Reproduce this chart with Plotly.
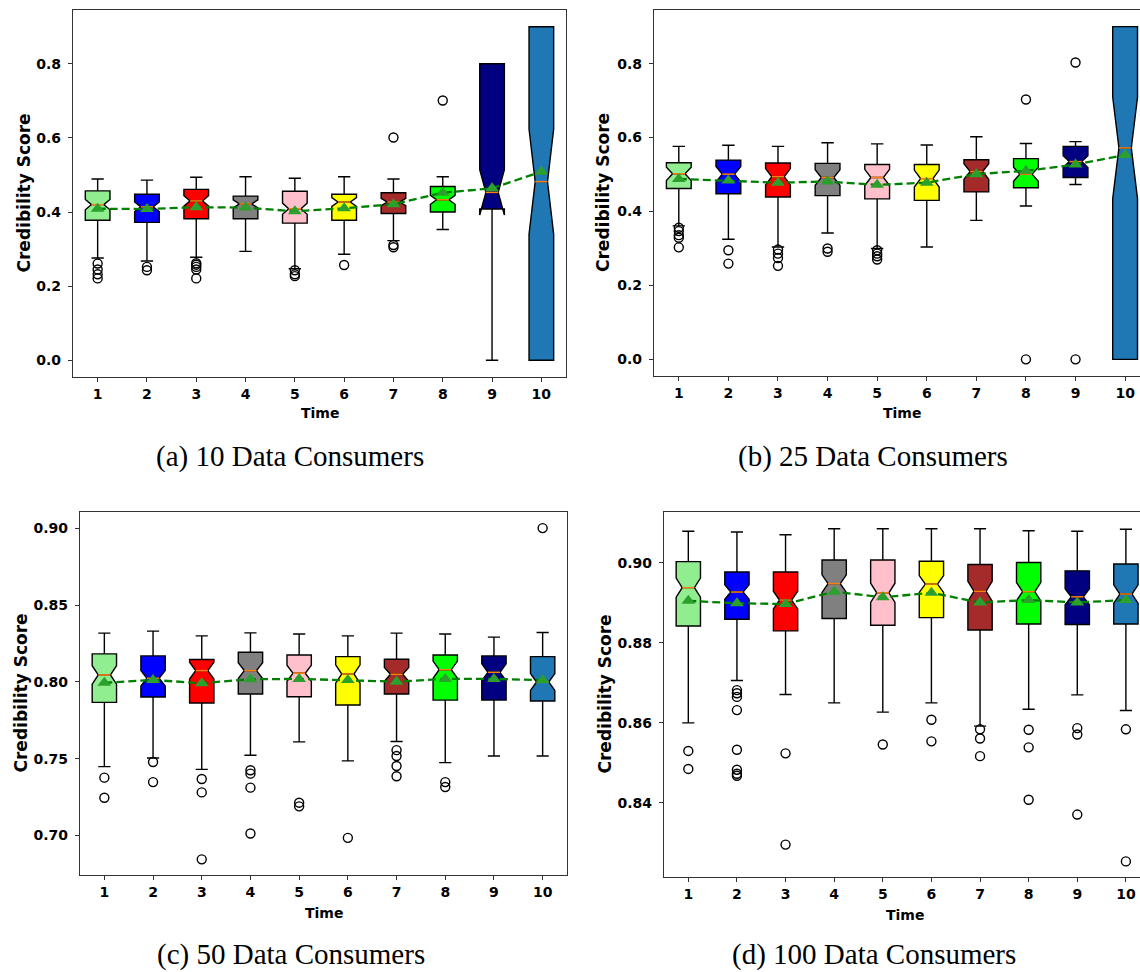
import plotly.graph_objects as go

TIME = list(range(1, 11))
COLORS = ["#90ee90", "#0000ff", "#ff0000", "#808080", "#ffc0cb",
          "#ffff00", "#a52a2a", "#00ff00", "#000080", "#1f77b4"]

# ---------------- (a) 10 Data Consumers ----------------
A_Q1 = [0.378, 0.372, 0.382, 0.382, 0.370, 0.378, 0.396, 0.400, 0.408, 0.000]
A_MED = [0.420, 0.414, 0.430, 0.422, 0.409, 0.427, 0.427, 0.433, 0.453, 0.482]
A_Q3 = [0.457, 0.448, 0.461, 0.443, 0.456, 0.448, 0.452, 0.469, 0.800, 0.900]
A_LO = [0.276, 0.268, 0.278, 0.294, 0.247, 0.286, 0.323, 0.353, 0.000, 0.000]
A_HI = [0.489, 0.486, 0.494, 0.495, 0.491, 0.495, 0.489, 0.495, 0.800, 0.900]
A_MEAN = [0.409, 0.408, 0.413, 0.412, 0.402, 0.410, 0.421, 0.452, 0.464, 0.509]
A_NOTCH = [0.014, 0.013, 0.014, 0.011, 0.015, 0.012, 0.010, 0.012, 0.061, 0.142]
A_OUT = [[0.261, 0.245, 0.232, 0.221], [0.252, 0.243],
         [0.262, 0.258, 0.252, 0.245, 0.221], [], [0.243, 0.232, 0.227],
         [0.257], [0.601, 0.311, 0.305], [0.701], [], []]

# ---------------- (b) 25 Data Consumers ----------------
B_Q1 = [0.462, 0.448, 0.439, 0.443, 0.434, 0.430, 0.453, 0.464, 0.492, 0.000]
B_MED = [0.502, 0.501, 0.494, 0.492, 0.492, 0.489, 0.508, 0.501, 0.535, 0.572]
B_Q3 = [0.532, 0.539, 0.531, 0.530, 0.527, 0.527, 0.540, 0.543, 0.576, 0.900]
B_LO = [0.361, 0.325, 0.304, 0.342, 0.300, 0.304, 0.376, 0.415, 0.473, 0.000]
B_HI = [0.576, 0.579, 0.576, 0.586, 0.583, 0.580, 0.602, 0.584, 0.589, 0.900]
B_MEAN = [0.488, 0.484, 0.478, 0.481, 0.472, 0.478, 0.501, 0.510, 0.527, 0.553]
B_NOTCH = [0.018, 0.021, 0.022, 0.021, 0.022, 0.023, 0.021, 0.019, 0.016, 0.137]
B_OUT = [[0.356, 0.347, 0.336, 0.329, 0.303], [0.295, 0.259],
         [0.297, 0.286, 0.274, 0.253], [0.300, 0.291],
         [0.295, 0.286, 0.279, 0.270], [], [], [0.703, 0.000],
         [0.803, 0.000], []]

# ---------------- (c) 50 Data Consumers ----------------
C_Q1 = [0.7867, 0.7902, 0.7863, 0.7922, 0.7904, 0.7850, 0.7922, 0.7882, 0.7882, 0.7876]
C_MED = [0.8046, 0.8024, 0.8074, 0.8074, 0.8057, 0.8052, 0.8050, 0.8080, 0.8063, 0.8000]
C_Q3 = [0.8183, 0.8170, 0.8146, 0.8194, 0.8176, 0.8165, 0.8148, 0.8176, 0.8170, 0.8165]
C_LO = [0.7449, 0.7505, 0.7431, 0.7523, 0.7610, 0.7486, 0.7612, 0.7475, 0.7518, 0.7518]
C_HI = [0.8318, 0.8331, 0.8300, 0.8320, 0.8312, 0.8300, 0.8318, 0.8312, 0.8292, 0.8322]
C_MEAN = [0.7995, 0.8013, 0.7992, 0.8018, 0.8020, 0.8013, 0.8002, 0.8020, 0.8020, 0.8012]
C_NOTCH = [0.0060, 0.0050, 0.0055, 0.0052, 0.0052, 0.0060, 0.0045, 0.0056, 0.0055, 0.0055]
C_OUT = [[0.7377, 0.7246], [0.7479, 0.7348], [0.7368, 0.7281, 0.6845],
         [0.7425, 0.7403, 0.7312, 0.7013], [0.7214, 0.7190], [0.6985],
         [0.7556, 0.7518, 0.7453, 0.7386], [0.7348, 0.7316], [], [0.9002]]

# ---------------- (d) 100 Data Consumers ----------------
D_Q1 = [0.8842, 0.8859, 0.8830, 0.8861, 0.8844, 0.8863, 0.8832, 0.8847, 0.8846, 0.8847]
D_MED = [0.8938, 0.8927, 0.8907, 0.8948, 0.8925, 0.8947, 0.8929, 0.8928, 0.8915, 0.8922]
D_Q3 = [0.9003, 0.8977, 0.8977, 0.9007, 0.9007, 0.9004, 0.8996, 0.9001, 0.8980, 0.8997]
D_LO = [0.8600, 0.8706, 0.8671, 0.8650, 0.8627, 0.8650, 0.8592, 0.8634, 0.8670, 0.8631]
D_HI = [0.9079, 0.9077, 0.9070, 0.9085, 0.9085, 0.9085, 0.9085, 0.9080, 0.9079, 0.9084]
D_MEAN = [0.8905, 0.8899, 0.8897, 0.8928, 0.8914, 0.8925, 0.8901, 0.8907, 0.8901, 0.8907]
D_NOTCH = [0.0024, 0.0018, 0.0022, 0.0022, 0.0024, 0.0021, 0.0025, 0.0023, 0.0020, 0.0023]
D_OUT = [[0.8530, 0.8485], [0.8682, 0.8674, 0.8665, 0.8632, 0.8533, 0.8483, 0.8473, 0.8468],
         [0.8524, 0.8296], [], [0.8546], [0.8608, 0.8554], [0.8584, 0.8561, 0.8517],
         [0.8583, 0.8539, 0.8408], [0.8587, 0.8571, 0.8371], [0.8584, 0.8254]]

CAPTIONS = ["(a) 10 Data Consumers", "(b) 25 Data Consumers",
            "(c) 50 Data Consumers", "(d) 100 Data Consumers"]
Y_TICKS = [[0.0, 0.2, 0.4, 0.6, 0.8], [0.0, 0.2, 0.4, 0.6, 0.8],
           [0.70, 0.75, 0.80, 0.85, 0.90], [0.84, 0.86, 0.88, 0.90]]
Y_FMT = [".1f", ".1f", ".2f", ".2f"]
Y_RANGE = [[-0.045, 0.945], [-0.045, 0.945], [0.6743, 0.9107], [0.8215, 0.9127]]
X_RANGE = [[0.5, 10.5], [0.5, 10.3], [0.5, 10.5], [0.5, 10.29]]

W, H = 1140, 972
# plot-area boxes in page pixels: left, top, right, bottom
AREAS = [(73, 10, 566, 377), (654, 10, 1140, 376), (80, 512, 567, 875), (664, 512, 1140, 877)]
YTITLE_X = [23, 603, 20, 604]
XTITLE_Y = [413, 413, 913, 915]
XTITLE_X = [319.5, 902, 323.5, 905]
CAP_POS = [(290, 456), (873, 456), (291, 954), (874, 954)]
MIRROR_Y = [True, False, True, False]


def px(x):
    return x / W


def py(y):
    return 1 - y / H


panels = [
    (A_Q1, A_MED, A_Q3, A_LO, A_HI, A_MEAN, A_NOTCH, A_OUT),
    (B_Q1, B_MED, B_Q3, B_LO, B_HI, B_MEAN, B_NOTCH, B_OUT),
    (C_Q1, C_MED, C_Q3, C_LO, C_HI, C_MEAN, C_NOTCH, C_OUT),
    (D_Q1, D_MED, D_Q3, D_LO, D_HI, D_MEAN, D_NOTCH, D_OUT),
]

BOX_W = 0.5
fig = go.Figure()
annotations = []
tickfont = dict(family="DejaVu Sans", size=14, color="black", weight="bold")

for p, (q1, med, q3, lo, hi, mean, notch, outs) in enumerate(panels):
    xa = "x" if p == 0 else f"x{p+1}"
    ya = "y" if p == 0 else f"y{p+1}"
    for i, t in enumerate(TIME):
        fig.add_trace(go.Box(
            x=[t], q1=[q1[i]], median=[med[i]], q3=[q3[i]],
            lowerfence=[lo[i]], upperfence=[hi[i]], notchspan=[notch[i]],
            notched=True, notchwidth=0.25, width=BOX_W, whiskerwidth=0.5,
            fillcolor=COLORS[i], line=dict(color="black", width=1.4),
            boxpoints=False, xaxis=xa, yaxis=ya, showlegend=False,
            hoverinfo="skip"))
    # orange medians
    mx, my = [], []
    for i, t in enumerate(TIME):
        mx += [t - BOX_W / 4, t + BOX_W / 4, None]
        my += [med[i], med[i], None]
    fig.add_trace(go.Scatter(x=mx, y=my, mode="lines",
                             line=dict(color="#ff7f0e", width=1.5),
                             xaxis=xa, yaxis=ya, showlegend=False, hoverinfo="skip"))
    # outliers
    ox, oy = [], []
    for i, t in enumerate(TIME):
        for v in outs[i]:
            ox.append(t)
            oy.append(v)
    fig.add_trace(go.Scatter(x=ox, y=oy, mode="markers",
                             marker=dict(symbol="circle-open", size=9, color="black",
                                         line=dict(width=1.4, color="black")),
                             xaxis=xa, yaxis=ya, showlegend=False, hoverinfo="skip",
                             cliponaxis=False))
    # mean line
    fig.add_trace(go.Scatter(x=TIME, y=mean, mode="lines",
                             line=dict(color="#008000", width=2.3, dash="8px,4px"),
                             xaxis=xa, yaxis=ya, showlegend=False, hoverinfo="skip"))
    fig.add_trace(go.Scatter(x=TIME, y=mean, mode="markers",
                             marker=dict(symbol="triangle-up", size=12, color="#2ca02c"),
                             xaxis=xa, yaxis=ya, showlegend=False, hoverinfo="skip"))

    l, t, r, b = AREAS[p]
    xdom = [max(0, px(l)), min(1, px(r))]
    ydom = [max(0, py(b)), min(1, py(t))]
    xkey = "xaxis" if p == 0 else f"xaxis{p+1}"
    ykey = "yaxis" if p == 0 else f"yaxis{p+1}"
    fig.layout[xkey] = dict(domain=xdom, range=X_RANGE[p], anchor=ya,
                            tickmode="array", tickvals=TIME, ticktext=[str(v) for v in TIME],
                            ticks="outside", ticklen=4, tickcolor="#333", tickwidth=1,
                            showgrid=False, zeroline=False, showline=True,
                            linecolor="#333", linewidth=1.2, mirror=True,
                            tickfont=tickfont, fixedrange=True)
    fig.layout[ykey] = dict(domain=ydom, range=Y_RANGE[p], anchor=xa,
                            tickmode="array", tickvals=Y_TICKS[p],
                            ticktext=[format(v, Y_FMT[p]) for v in Y_TICKS[p]],
                            ticks="outside", ticklen=4, tickcolor="#333", tickwidth=1,
                            ticklabelstandoff=4,
                            showgrid=False, zeroline=False, showline=True,
                            linecolor="#333", linewidth=1.2, mirror=MIRROR_Y[p],
                            tickfont=tickfont, fixedrange=True)
    annotations.append(dict(text="Credibility Score", x=px(YTITLE_X[p]),
                            y=py((t + b) / 2), xref="paper", yref="paper",
                            textangle=-90, showarrow=False, xanchor="center", yanchor="middle",
                            font=dict(family="DejaVu Sans", size=17, color="black", weight="bold")))
    annotations.append(dict(text="Time", x=px(XTITLE_X[p]), y=py(XTITLE_Y[p]),
                            xref="paper", yref="paper", showarrow=False,
                            xanchor="center", yanchor="middle",
                            font=dict(family="DejaVu Sans", size=14, color="black", weight="bold")))
    cx, cy = CAP_POS[p]
    annotations.append(dict(text=CAPTIONS[p], x=px(cx), y=py(cy),
                            xref="paper", yref="paper", showarrow=False,
                            xanchor="center", yanchor="middle",
                            font=dict(family="Liberation Serif", size=29, color="black")))

fig.update_layout(width=W, height=H, margin=dict(l=0, r=0, t=0, b=0, pad=0),
                  paper_bgcolor="white", plot_bgcolor="white", boxmode="overlay",
                  annotations=annotations, showlegend=False)

fig.write_html("out.html", config={"displayModeBar": False},
               post_script="document.body.style.margin='0px';"
                           "document.body.style.overflow='hidden';")
